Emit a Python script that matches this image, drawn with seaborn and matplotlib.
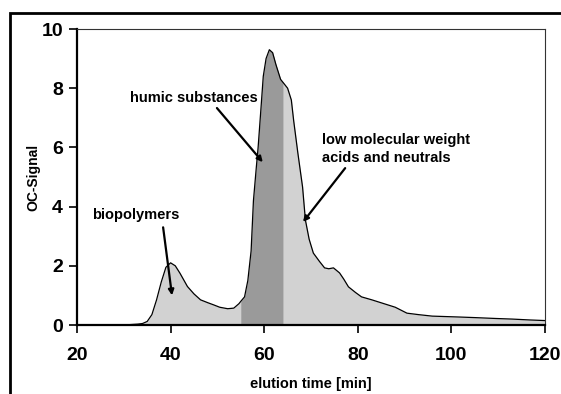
import numpy as np
import pandas as pd
import matplotlib
matplotlib.use("Agg")
import matplotlib.pyplot as plt
import seaborn as sns
from matplotlib.patches import Rectangle

# ---- data ----
elution_time = [20, 30, 33, 34, 35, 36, 37, 38, 39, 40, 41, 42, 43.6, 45, 46.4, 48,
                49.2, 50.5, 52.2, 53.5, 54.6, 55.0, 55.8, 56.5, 57.2, 57.7, 58.3, 58.7,
                59.3, 59.8, 60.4, 61.1, 61.8, 62.5, 63.5, 64.0, 65.0, 65.8, 66.3, 67.2,
                68.2, 68.8, 69.6, 70.5, 71.8, 72.9, 73.8, 74.8, 76.1, 77, 78, 79.5, 80.8,
                83, 85.2, 88, 90.5, 93, 95.9, 101.6, 105, 109.5, 113, 116.8, 120]
oc_signal = [0, 0, 0.03, 0.05, 0.12, 0.35, 0.85, 1.45, 1.95, 2.1, 2.0, 1.75, 1.3, 1.05,
             0.85, 0.75, 0.68, 0.6, 0.55, 0.57, 0.72, 0.8, 0.95, 1.5, 2.5, 4.2, 5.3, 6.0,
             7.3, 8.4, 9.0, 9.3, 9.2, 8.8, 8.3, 8.2, 8.0, 7.6, 6.9, 5.8, 4.66, 3.55, 2.9,
             2.43, 2.15, 1.93, 1.9, 1.93, 1.76, 1.55, 1.29, 1.1, 0.95, 0.85, 0.74, 0.6,
             0.4, 0.35, 0.3, 0.27, 0.25, 0.22, 0.2, 0.17, 0.15]
humic_start, humic_end = 55.0, 64.0
x_ticks = [20, 40, 60, 80, 100, 120]
y_ticks = [0, 2, 4, 6, 8, 10]

df = pd.DataFrame({"t": elution_time, "s": oc_signal})

sns.set_theme(style="white")
plt.rcParams['font.family'] = ['Liberation Sans Narrow', 'Liberation Sans', 'DejaVu Sans']
plt.rcParams['text.color'] = 'black'
plt.rcParams['axes.labelcolor'] = 'black'
plt.rcParams['xtick.color'] = 'black'
plt.rcParams['ytick.color'] = 'black'

fig = plt.figure(figsize=(5.61, 3.94), dpi=100)
ax = fig.add_axes([77/561, 1-325/394, (545-77)/561, (325-29)/394])

t = np.array(elution_time)
s = np.array(oc_signal)
light = t >= 34
ax.fill_between(t, 0, s, where=light, color="#d2d2d2", linewidth=0)
dark = (t >= humic_start) & (t <= humic_end)
ax.fill_between(t, 0, s, where=dark, color="#9a9a9a", linewidth=0)
sns.lineplot(data=df, x="t", y="s", ax=ax, color="black", linewidth=0.9)

ax.set_xlim(20, 120)
ax.set_ylim(0, 10)
ax.set_xticks(x_ticks)
ax.set_yticks(y_ticks)
ax.set_xticklabels([str(v) for v in x_ticks], fontsize=14, fontweight="bold")
ax.set_yticklabels([str(v) for v in y_ticks], fontsize=14, fontweight="bold")
ax.tick_params(axis="both", direction="out", length=6, width=1.2,
               bottom=True, left=True)
ax.tick_params(axis="x", pad=10)
ax.tick_params(axis="y", pad=4)
ax.set_xlabel("elution time [min]", fontsize=10.5, fontweight="bold", labelpad=9)
ax.set_ylabel("OC-Signal", fontsize=10, fontweight="bold", labelpad=1)

for side in ["left", "bottom"]:
    ax.spines[side].set_color("black")
    ax.spines[side].set_linewidth(1.6)
for side in ["top", "right"]:
    ax.spines[side].set_color("#333333")
    ax.spines[side].set_linewidth(0.8)
ax.grid(False)

arrow = dict(arrowstyle="-|>", color="black", lw=1.6, mutation_scale=8, shrinkA=0, shrinkB=0)
ax.text(31.3, 7.67, "humic substances", fontsize=10.5, fontweight="bold",
        ha="left", va="center")
ax.annotate("", xy=(59.7, 5.5), xytext=(49.9, 7.33), arrowprops=arrow)
ax.text(72.4, 5.95, "low molecular weight\nacids and neutrals", fontsize=10.5,
        fontweight="bold", ha="left", va="center", linespacing=1.4)
ax.annotate("", xy=(68.3, 3.48), xytext=(77.3, 5.3), arrowprops=arrow)
ax.text(23.2, 3.72, "biopolymers", fontsize=10.5, fontweight="bold", ha="left", va="center")
ax.annotate("", xy=(40.3, 1.0), xytext=(38.4, 3.3), arrowprops=arrow)

# outer frame
fig.patches.append(Rectangle((10/561, -0.1), 1.2, 1 - 13/394 + 0.1,
                             transform=fig.transFigure, fill=False,
                             edgecolor="black", linewidth=2))

fig.savefig("out.png", dpi=100)
